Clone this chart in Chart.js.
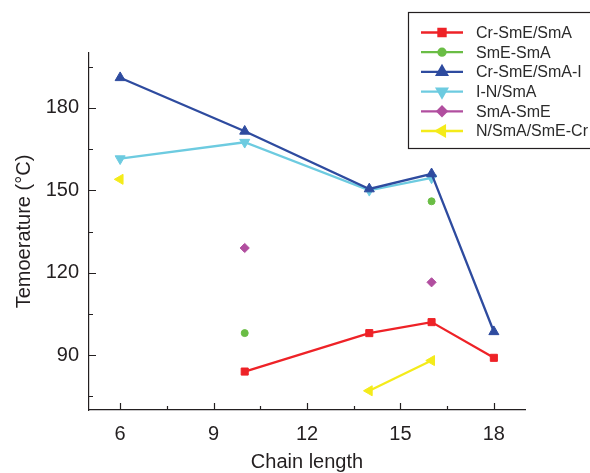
<!DOCTYPE html>
<html>
<head>
<meta charset="utf-8">
<script src="https://cdn.jsdelivr.net/npm/chart.js@4.4.0/dist/chart.umd.min.js"></script>
<style>
  html, body { margin: 0; padding: 0; background: #fff; }
  #wrap { width: 590px; height: 473px; position: relative; }
</style>
</head>
<body>
<div id="wrap"><canvas id="phaseChart" width="590" height="473"></canvas></div>
<script>
// chain lengths (x) and transition temperatures per series
const chainLengths = [6, 10, 14, 16, 18];
const crSmeSma   = [null, 84, 98, 102, 89];
const smeSma     = [null, 98, null, 146, null];
const crSmeSmaI  = [191, 171.5, 150.5, 156, 98.5];
const iNSma      = [161.5, 167.5, 150, 154.5, null];
const smaSme     = [null, 129, null, 116.5, null];
const nSmaSmeCr  = [154, null, 77, 88, null];

const xMajorTicks = [6, 9, 12, 15, 18];
const xMinorTicks = [7.5, 10.5, 13.5, 16.5];
const yMajorTicks = [90, 120, 150, 180];
const yMinorTicks = [75, 105, 135, 165, 195];

const inkColor = '#231f20';

function toPoints(values) {
    return chainLengths.map((x, i) => ({ x: x, y: values[i] }));
}

function makeSeries(label, values, color, style, radius, rotation, showLine) {
    return {
        label: label,
        data: toPoints(values),
        borderColor: color,
        backgroundColor: color,
        pointBackgroundColor: color,
        pointBorderColor: color,
        pointStyle: style,
        pointRadius: radius,
        pointHoverRadius: radius,
        pointBorderWidth: 1,
        pointRotation: rotation,
        borderWidth: 2.3,
        showLine: showLine,
        spanGaps: false,
        tension: 0
    };
}

const datasets = [
    makeSeries('Cr-SmE/SmA', crSmeSma, '#ee2227', 'rect', 5, 0, true),
    makeSeries('SmE-SmA', smeSma, '#6abd45', 'circle', 3.5, 0, false),
    makeSeries('Cr-SmE/SmA-I', crSmeSmaI, '#2e4b9f', 'triangle', 5.8, 0, true),
    makeSeries('I-N/SmA', iNSma, '#6dcbe0', 'triangle', 5.8, 180, true),
    makeSeries('SmA-SmE', smaSme, '#b14e9f', 'rectRot', 4.6, 0, false),
    makeSeries('N/SmA/SmE-Cr', nSmaSmeCr, '#f4eb1a', 'triangle', 5.8, 270, true)
];

// inward ticks, axis titles and the boxed legend
const decorPlugin = {
    id: 'decor',
    afterDraw(chart) {
        const ctx = chart.ctx;
        const xs = chart.scales.x;
        const ys = chart.scales.y;
        const area = chart.chartArea;

        ctx.save();
        ctx.strokeStyle = inkColor;
        ctx.lineWidth = 1.2;
        ctx.beginPath();
        xMajorTicks.forEach(v => {
            const px = Math.round(xs.getPixelForValue(v)) + 0.5;
            ctx.moveTo(px, area.bottom); ctx.lineTo(px, area.bottom - 7);
        });
        xMinorTicks.forEach(v => {
            const px = Math.round(xs.getPixelForValue(v)) + 0.5;
            ctx.moveTo(px, area.bottom); ctx.lineTo(px, area.bottom - 4);
        });
        yMajorTicks.forEach(v => {
            const py = Math.round(ys.getPixelForValue(v)) + 0.5;
            ctx.moveTo(area.left, py); ctx.lineTo(area.left + 7, py);
        });
        yMinorTicks.forEach(v => {
            const py = Math.round(ys.getPixelForValue(v)) + 0.5;
            ctx.moveTo(area.left, py); ctx.lineTo(area.left + 4, py);
        });
        ctx.stroke();

        // axis titles
        ctx.fillStyle = inkColor;
        ctx.font = '20px "Liberation Sans", Arial, sans-serif';
        ctx.textAlign = 'center';
        ctx.textBaseline = 'alphabetic';
        ctx.fillText('Chain length', (area.left + area.right) / 2, 468);
        ctx.translate(30, (area.top + area.bottom) / 2);
        ctx.rotate(-Math.PI / 2);
        ctx.fillText('Temoerature (\u00b0C)', 0, 0);
        ctx.restore();

        // legend
        ctx.save();
        ctx.strokeStyle = inkColor;
        ctx.lineWidth = 1.2;
        ctx.strokeRect(408.5, 12.5, 200, 136);
        ctx.font = '16px "Liberation Sans", Arial, sans-serif';
        ctx.textAlign = 'left';
        ctx.textBaseline = 'middle';
        chart.data.datasets.forEach((ds, i) => {
            const cy = 32.5 + i * 19.7;
            ctx.strokeStyle = ds.borderColor;
            ctx.lineWidth = 2.3;
            ctx.beginPath();
            ctx.moveTo(421, cy); ctx.lineTo(463, cy);
            ctx.stroke();
            ctx.fillStyle = ds.borderColor;
            Chart.helpers.drawPoint(ctx, {
                pointStyle: ds.pointStyle,
                radius: ds.pointRadius,
                rotation: ds.pointRotation,
                borderWidth: 1
            }, 442, cy);
            ctx.fillStyle = '#2b2b2b';
            ctx.fillText(ds.label, 476, cy + 1);
        });
        ctx.restore();
    }
};

new Chart(document.getElementById('phaseChart'), {
    type: 'line',
    data: { datasets: datasets },
    options: {
        responsive: false,
        animation: false,
        events: [],
        layout: { padding: { top: 53, right: 65, left: 0, bottom: 0 } },
        plugins: {
            legend: { display: false },
            tooltip: { enabled: false }
        },
        scales: {
            x: {
                type: 'linear',
                min: 5,
                max: 19,
                grid: { display: false, drawTicks: false },
                border: { display: true, color: inkColor, width: 1.2 },
                afterBuildTicks: scale => { scale.ticks = xMajorTicks.map(v => ({ value: v })); },
                afterFit: scale => { scale.height = 63; },
                ticks: {
                    color: inkColor,
                    padding: 12,
                    maxRotation: 0,
                    font: { family: '"Liberation Sans", Arial, sans-serif', size: 20 }
                }
            },
            y: {
                type: 'linear',
                min: 70,
                max: 200,
                grid: { display: false, drawTicks: false },
                border: { display: true, color: inkColor, width: 1.2 },
                afterBuildTicks: scale => { scale.ticks = yMajorTicks.map(v => ({ value: v })); },
                afterFit: scale => { scale.width = 89; },
                ticks: {
                    color: inkColor,
                    padding: 10,
                    font: { family: '"Liberation Sans", Arial, sans-serif', size: 20 }
                }
            }
        }
    },
    plugins: [decorPlugin]
});
</script>
</body>
</html>
